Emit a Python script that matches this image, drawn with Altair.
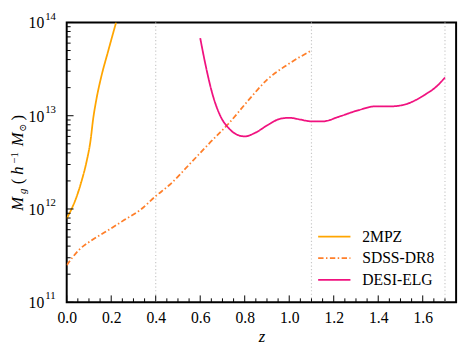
import altair as alt
import pandas as pd

# ---- data ----
surveys = ["2MPZ", "SDSS-DR8", "DESI-ELG"]
colors = ["#ffa500", "#ff7f2a", "#f0127f"]
dashes = [[1, 0], [5.5, 2.5, 1.5, 2.5], [1, 0]]

z_2mpz = [0.0, 0.02, 0.038, 0.067, 0.089, 0.107, 0.119, 0.133, 0.155, 0.185, 0.222]
m_2mpz = [7.9e11, 9.8e11, 1.23e12, 2.0e12, 3.2e12, 5.4e12, 9.3e12, 1.48e13, 2.6e13, 4.8e13, 1.0e14]

z_sdss = [0.0, 0.053, 0.111, 0.185, 0.258, 0.331, 0.401, 0.463, 0.551, 0.639, 0.727, 0.815, 0.902, 0.99, 1.1]
m_sdss = [2.5e11, 3.6e11, 4.6e11, 5.9e11, 7.6e11, 9.8e11, 1.38e12, 1.82e12, 3.0e12, 5.0e12,
          8.2e12, 1.45e13, 2.45e13, 3.5e13, 5.0e13]

z_desi = [0.6, 0.624, 0.654, 0.69, 0.727, 0.763, 0.8, 0.844, 0.902, 0.961, 1.0, 1.049, 1.1,
          1.152, 1.225, 1.313, 1.386, 1.459, 1.533, 1.606, 1.665, 1.7]
m_desi = [6.8e13, 3.5e13, 1.74e13, 1.0e13, 7.4e12, 6.3e12, 6.0e12, 6.5e12, 7.9e12, 9.3e12, 9.5e12,
          9.1e12, 8.7e12, 8.7e12, 9.8e12, 1.15e13, 1.26e13, 1.26e13, 1.35e13, 1.66e13, 2.09e13, 2.57e13]

vlines = [0.4, 1.1, 1.7]
x_major = [0.0, 0.2, 0.4, 0.6, 0.8, 1.0, 1.2, 1.4, 1.6]
x_minor = [0.05, 0.1, 0.15, 0.25, 0.3, 0.35, 0.45, 0.5, 0.55, 0.65, 0.7, 0.75, 0.85, 0.9, 0.95,
           1.05, 1.1, 1.15, 1.25, 1.3, 1.35, 1.45, 1.5, 1.55, 1.65, 1.7]
y_major = [1e11, 1e12, 1e13, 1e14]
y_exp = ["11", "12", "13", "14"]
y_minor = [m * 10 ** e for e in (11, 12, 13) for m in range(2, 10)]

# ---- layout ----
W, H = 398, 286
FONT = "Liberation Serif, DejaVu Serif, serif"

xs = alt.Scale(domain=[0, 1.75], nice=False, zero=False)
ys = alt.Scale(type="log", domain=[1e11, 1e14], nice=False)
xaxis = alt.Axis(
    values=x_major, format=".1f", ticks=False, tickSize=0, domain=False, grid=False,
    labelFont=FONT, labelFontSize=16, labelColor="black", labelPadding=8, labelFlush=False,
    title="z", titleFont=FONT, titleFontSize=17, titleFontStyle="italic",
    titleFontWeight="normal", titleColor="black", titlePadding=3)

rows = []
for name, zz, mm in [(surveys[0], z_2mpz, m_2mpz), (surveys[1], z_sdss, m_sdss), (surveys[2], z_desi, m_desi)]:
    for a, b in zip(zz, mm):
        rows.append({"z": a, "M": b, "survey": name})
df = pd.DataFrame(rows)

vl = alt.Chart(pd.DataFrame({"z": vlines})).mark_rule(
    color="#c8c8c8", strokeWidth=1.2, strokeDash=[1.2, 2.4]).encode(
    x=alt.X("z:Q", scale=xs, axis=xaxis), y=alt.value(0), y2=alt.value(H))

lines = alt.Chart(df).mark_line(strokeWidth=1.8, interpolate="monotone", clip=True).encode(
    x=alt.X("z:Q", scale=xs, axis=xaxis),
    y=alt.Y("M:Q", scale=ys, axis=None),
    color=alt.Color("survey:N", scale=alt.Scale(domain=surveys, range=colors), legend=None),
    strokeDash=alt.StrokeDash("survey:N", scale=alt.Scale(domain=surveys, range=dashes), legend=None),
    detail="survey:N",
    order="z:Q",
)

xt_maj = alt.Chart(pd.DataFrame({"z": x_major})).mark_rule(color="black", strokeWidth=1).encode(
    x=alt.X("z:Q", scale=xs, axis=xaxis), y=alt.value(H), y2=alt.value(H - 7))
xt_min = alt.Chart(pd.DataFrame({"z": x_minor})).mark_rule(color="black", strokeWidth=1).encode(
    x=alt.X("z:Q", scale=xs, axis=xaxis), y=alt.value(H), y2=alt.value(H - 4))
yt_maj = alt.Chart(pd.DataFrame({"M": y_major})).mark_rule(color="black", strokeWidth=1).encode(
    y=alt.Y("M:Q", scale=ys, axis=None), x=alt.value(0), x2=alt.value(7))
yt_min = alt.Chart(pd.DataFrame({"M": y_minor})).mark_rule(color="black", strokeWidth=1).encode(
    y=alt.Y("M:Q", scale=ys, axis=None), x=alt.value(0), x2=alt.value(4))

ylab_df = pd.DataFrame({"M": y_major, "e": y_exp})
ylab_base = alt.Chart(ylab_df).mark_text(
    text="10", font=FONT, fontSize=16, align="right", baseline="alphabetic", dy=6, color="black").encode(
    y=alt.Y("M:Q", scale=ys, axis=None), x=alt.value(-23))
ylab_exp = alt.Chart(ylab_df).mark_text(
    font=FONT, fontSize=11, align="left", baseline="alphabetic", dy=-3, color="black").encode(
    y=alt.Y("M:Q", scale=ys, axis=None), x=alt.value(-22), text="e:N")

# y-axis title  M_g(h^-1 M_sun), rotated
one = pd.DataFrame({"a": [0]})
title_parts = [
    ("M", 185.5, -45, 17, "italic"),
    ("g", 172.5, -42, 11, "italic"),
    ("(", 162.5, -45, 17, "normal"),
    ("h", 151.5, -45, 17, "italic"),
    ("\u22121", 138.5, -50, 11, "normal"),
    ("M", 119.5, -45, 17, "italic"),
    ("\u2299", 107.5, -42, 10, "normal"),
    (")", 97.5, -45, 17, "normal"),
]
ytitle = [
    alt.Chart(one).mark_text(text=t, font=FONT, fontSize=fs, fontStyle=st, angle=270,
                             align="center", baseline="alphabetic", color="black").encode(
        x=alt.value(xx), y=alt.value(yy))
    for t, yy, xx, fs, st in title_parts
]

# legend (bottom right, no frame)
leg = []
for i, name in enumerate(surveys):
    yy = H - 67 + 22 * i
    leg.append(alt.Chart(one).mark_rule(color=colors[i], strokeWidth=1.8, strokeDash=dashes[i]).encode(
        x=alt.value(257), x2=alt.value(290), y=alt.value(yy)))
    leg.append(alt.Chart(one).mark_text(text=name, font=FONT, fontSize=16, align="left",
                                        baseline="middle", color="black").encode(
        x=alt.value(302), y=alt.value(yy)))

chart = alt.layer(vl, lines, xt_maj, xt_min, yt_maj, yt_min, ylab_base, ylab_exp, *ytitle, *leg).properties(
    width=W, height=H,
    autosize=alt.AutoSizeParams(type="none"),
    padding={"left": 60, "top": 11, "right": 5, "bottom": 44},
).configure_view(stroke="black", strokeWidth=2)

chart.save("out.html", embed_options={"renderer": "svg", "actions": False})
